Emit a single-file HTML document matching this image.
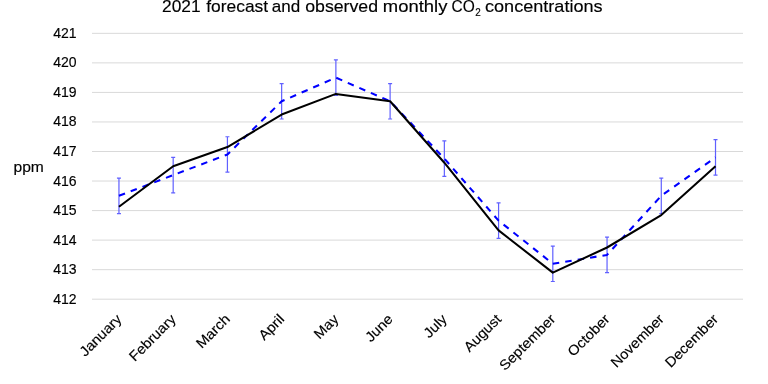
<!DOCTYPE html>
<html><head><meta charset="utf-8"><style>
html,body{margin:0;padding:0;background:#fff;}
svg{display:block;will-change:transform;}
text{font-family:"Liberation Sans",sans-serif;fill:#000;stroke:#000;stroke-width:0.15;}
.ax{font-size:14px;}
.title{font-size:17px;}
.sub{font-size:11px;}
</style></head><body>
<svg width="768" height="384" viewBox="0 0 768 384">
<rect width="768" height="384" fill="#fff"/>
<line x1="92.0" y1="299.20" x2="743.0" y2="299.20" stroke="#d9d9d9" stroke-width="1"/>
<line x1="92.0" y1="269.66" x2="743.0" y2="269.66" stroke="#d9d9d9" stroke-width="1"/>
<line x1="92.0" y1="240.12" x2="743.0" y2="240.12" stroke="#d9d9d9" stroke-width="1"/>
<line x1="92.0" y1="210.58" x2="743.0" y2="210.58" stroke="#d9d9d9" stroke-width="1"/>
<line x1="92.0" y1="181.04" x2="743.0" y2="181.04" stroke="#d9d9d9" stroke-width="1"/>
<line x1="92.0" y1="151.50" x2="743.0" y2="151.50" stroke="#d9d9d9" stroke-width="1"/>
<line x1="92.0" y1="121.96" x2="743.0" y2="121.96" stroke="#d9d9d9" stroke-width="1"/>
<line x1="92.0" y1="92.42" x2="743.0" y2="92.42" stroke="#d9d9d9" stroke-width="1"/>
<line x1="92.0" y1="62.88" x2="743.0" y2="62.88" stroke="#d9d9d9" stroke-width="1"/>
<line x1="92.0" y1="33.34" x2="743.0" y2="33.34" stroke="#d9d9d9" stroke-width="1"/>
<text x="76.6" y="303.70" text-anchor="end" class="ax">412</text>
<text x="76.6" y="274.16" text-anchor="end" class="ax">413</text>
<text x="76.6" y="244.62" text-anchor="end" class="ax">414</text>
<text x="76.6" y="215.08" text-anchor="end" class="ax">415</text>
<text x="76.6" y="185.54" text-anchor="end" class="ax">416</text>
<text x="76.6" y="156.00" text-anchor="end" class="ax">417</text>
<text x="76.6" y="126.46" text-anchor="end" class="ax">418</text>
<text x="76.6" y="96.92" text-anchor="end" class="ax">419</text>
<text x="76.6" y="67.38" text-anchor="end" class="ax">420</text>
<text x="76.6" y="37.84" text-anchor="end" class="ax">421</text>
<path d="M118.95 178.09V213.53M116.95 178.09H120.95M116.95 213.53H120.95" stroke="#6060ff" stroke-width="1.2" fill="none"/>
<path d="M173.18 157.41V192.86M171.18 157.41H175.18M171.18 192.86H175.18" stroke="#6060ff" stroke-width="1.2" fill="none"/>
<path d="M227.42 136.73V172.18M225.42 136.73H229.42M225.42 172.18H229.42" stroke="#6060ff" stroke-width="1.2" fill="none"/>
<path d="M281.65 83.56V119.01M279.65 83.56H283.65M279.65 119.01H283.65" stroke="#6060ff" stroke-width="1.2" fill="none"/>
<path d="M335.88 59.93V95.37M333.88 59.93H337.88M333.88 95.37H337.88" stroke="#6060ff" stroke-width="1.2" fill="none"/>
<path d="M390.11 83.56V119.01M388.11 83.56H392.11M388.11 119.01H392.11" stroke="#6060ff" stroke-width="1.2" fill="none"/>
<path d="M444.35 140.87V176.31M442.35 140.87H446.35M442.35 176.31H446.35" stroke="#6060ff" stroke-width="1.2" fill="none"/>
<path d="M498.58 202.90V238.35M496.58 202.90H500.58M496.58 238.35H500.58" stroke="#6060ff" stroke-width="1.2" fill="none"/>
<path d="M552.81 246.03V281.48M550.81 246.03H554.81M550.81 281.48H554.81" stroke="#6060ff" stroke-width="1.2" fill="none"/>
<path d="M607.05 237.17V272.61M605.05 237.17H609.05M605.05 272.61H609.05" stroke="#6060ff" stroke-width="1.2" fill="none"/>
<path d="M661.28 178.09V213.53M659.28 178.09H663.28M659.28 213.53H663.28" stroke="#6060ff" stroke-width="1.2" fill="none"/>
<path d="M715.51 139.68V175.13M713.51 139.68H717.51M713.51 175.13H717.51" stroke="#6060ff" stroke-width="1.2" fill="none"/>
<polyline points="118.95,195.81 173.18,175.13 227.42,154.45 281.65,101.28 335.88,77.65 390.11,101.28 444.35,158.59 498.58,220.62 552.81,263.75 607.05,254.89 661.28,195.81 715.51,157.41" fill="none" stroke="#0000ff" stroke-width="2.05" stroke-dasharray="6.5 6.08" stroke-linejoin="round"/>
<polyline points="118.95,206.74 173.18,166.27 227.42,147.07 281.65,114.57 335.88,93.90 390.11,101.28 444.35,162.73 498.58,230.37 552.81,272.61 607.05,247.50 661.28,215.01 715.51,166.27" fill="none" stroke="#000" stroke-width="2.05" stroke-linejoin="round"/>
<text transform="translate(122.45,320.00) rotate(-45) scale(1.06,1)" text-anchor="end" class="ax">January</text>
<text transform="translate(176.68,320.00) rotate(-45) scale(1.06,1)" text-anchor="end" class="ax">February</text>
<text transform="translate(230.92,320.00) rotate(-45) scale(1.06,1)" text-anchor="end" class="ax">March</text>
<text transform="translate(285.15,320.00) rotate(-45) scale(1.06,1)" text-anchor="end" class="ax">April</text>
<text transform="translate(339.38,320.00) rotate(-45) scale(1.06,1)" text-anchor="end" class="ax">May</text>
<text transform="translate(393.61,320.00) rotate(-45) scale(1.06,1)" text-anchor="end" class="ax">June</text>
<text transform="translate(447.85,320.00) rotate(-45) scale(1.06,1)" text-anchor="end" class="ax">July</text>
<text transform="translate(502.08,320.00) rotate(-45) scale(1.06,1)" text-anchor="end" class="ax">August</text>
<text transform="translate(556.31,320.00) rotate(-45) scale(1.06,1)" text-anchor="end" class="ax">September</text>
<text transform="translate(610.55,320.00) rotate(-45) scale(1.06,1)" text-anchor="end" class="ax">October</text>
<text transform="translate(664.78,320.00) rotate(-45) scale(1.06,1)" text-anchor="end" class="ax">November</text>
<text transform="translate(719.01,320.00) rotate(-45) scale(1.06,1)" text-anchor="end" class="ax">December</text>
<text x="13.45" y="172" class="ax" textLength="30.4" lengthAdjust="spacingAndGlyphs">ppm</text>
<text x="162.08" y="11.8" class="title" textLength="38.57" lengthAdjust="spacingAndGlyphs">2021</text>
<text x="206.20" y="11.8" class="title" textLength="61.95" lengthAdjust="spacingAndGlyphs">forecast</text>
<text x="271.80" y="11.8" class="title" textLength="28.38" lengthAdjust="spacingAndGlyphs">and</text>
<text x="305.21" y="11.8" class="title" textLength="72.87" lengthAdjust="spacingAndGlyphs">observed</text>
<text x="382.82" y="11.8" class="title" textLength="64.60" lengthAdjust="spacingAndGlyphs">monthly</text>
<text x="451.59" y="11.8" class="title" textLength="23.27" lengthAdjust="spacingAndGlyphs">CO</text>
<text x="485.04" y="11.8" class="title" textLength="117.58" lengthAdjust="spacingAndGlyphs">concentrations</text>
<text x="475.20" y="15.6" class="sub" textLength="5.51" lengthAdjust="spacingAndGlyphs">2</text>
</svg></body></html>
